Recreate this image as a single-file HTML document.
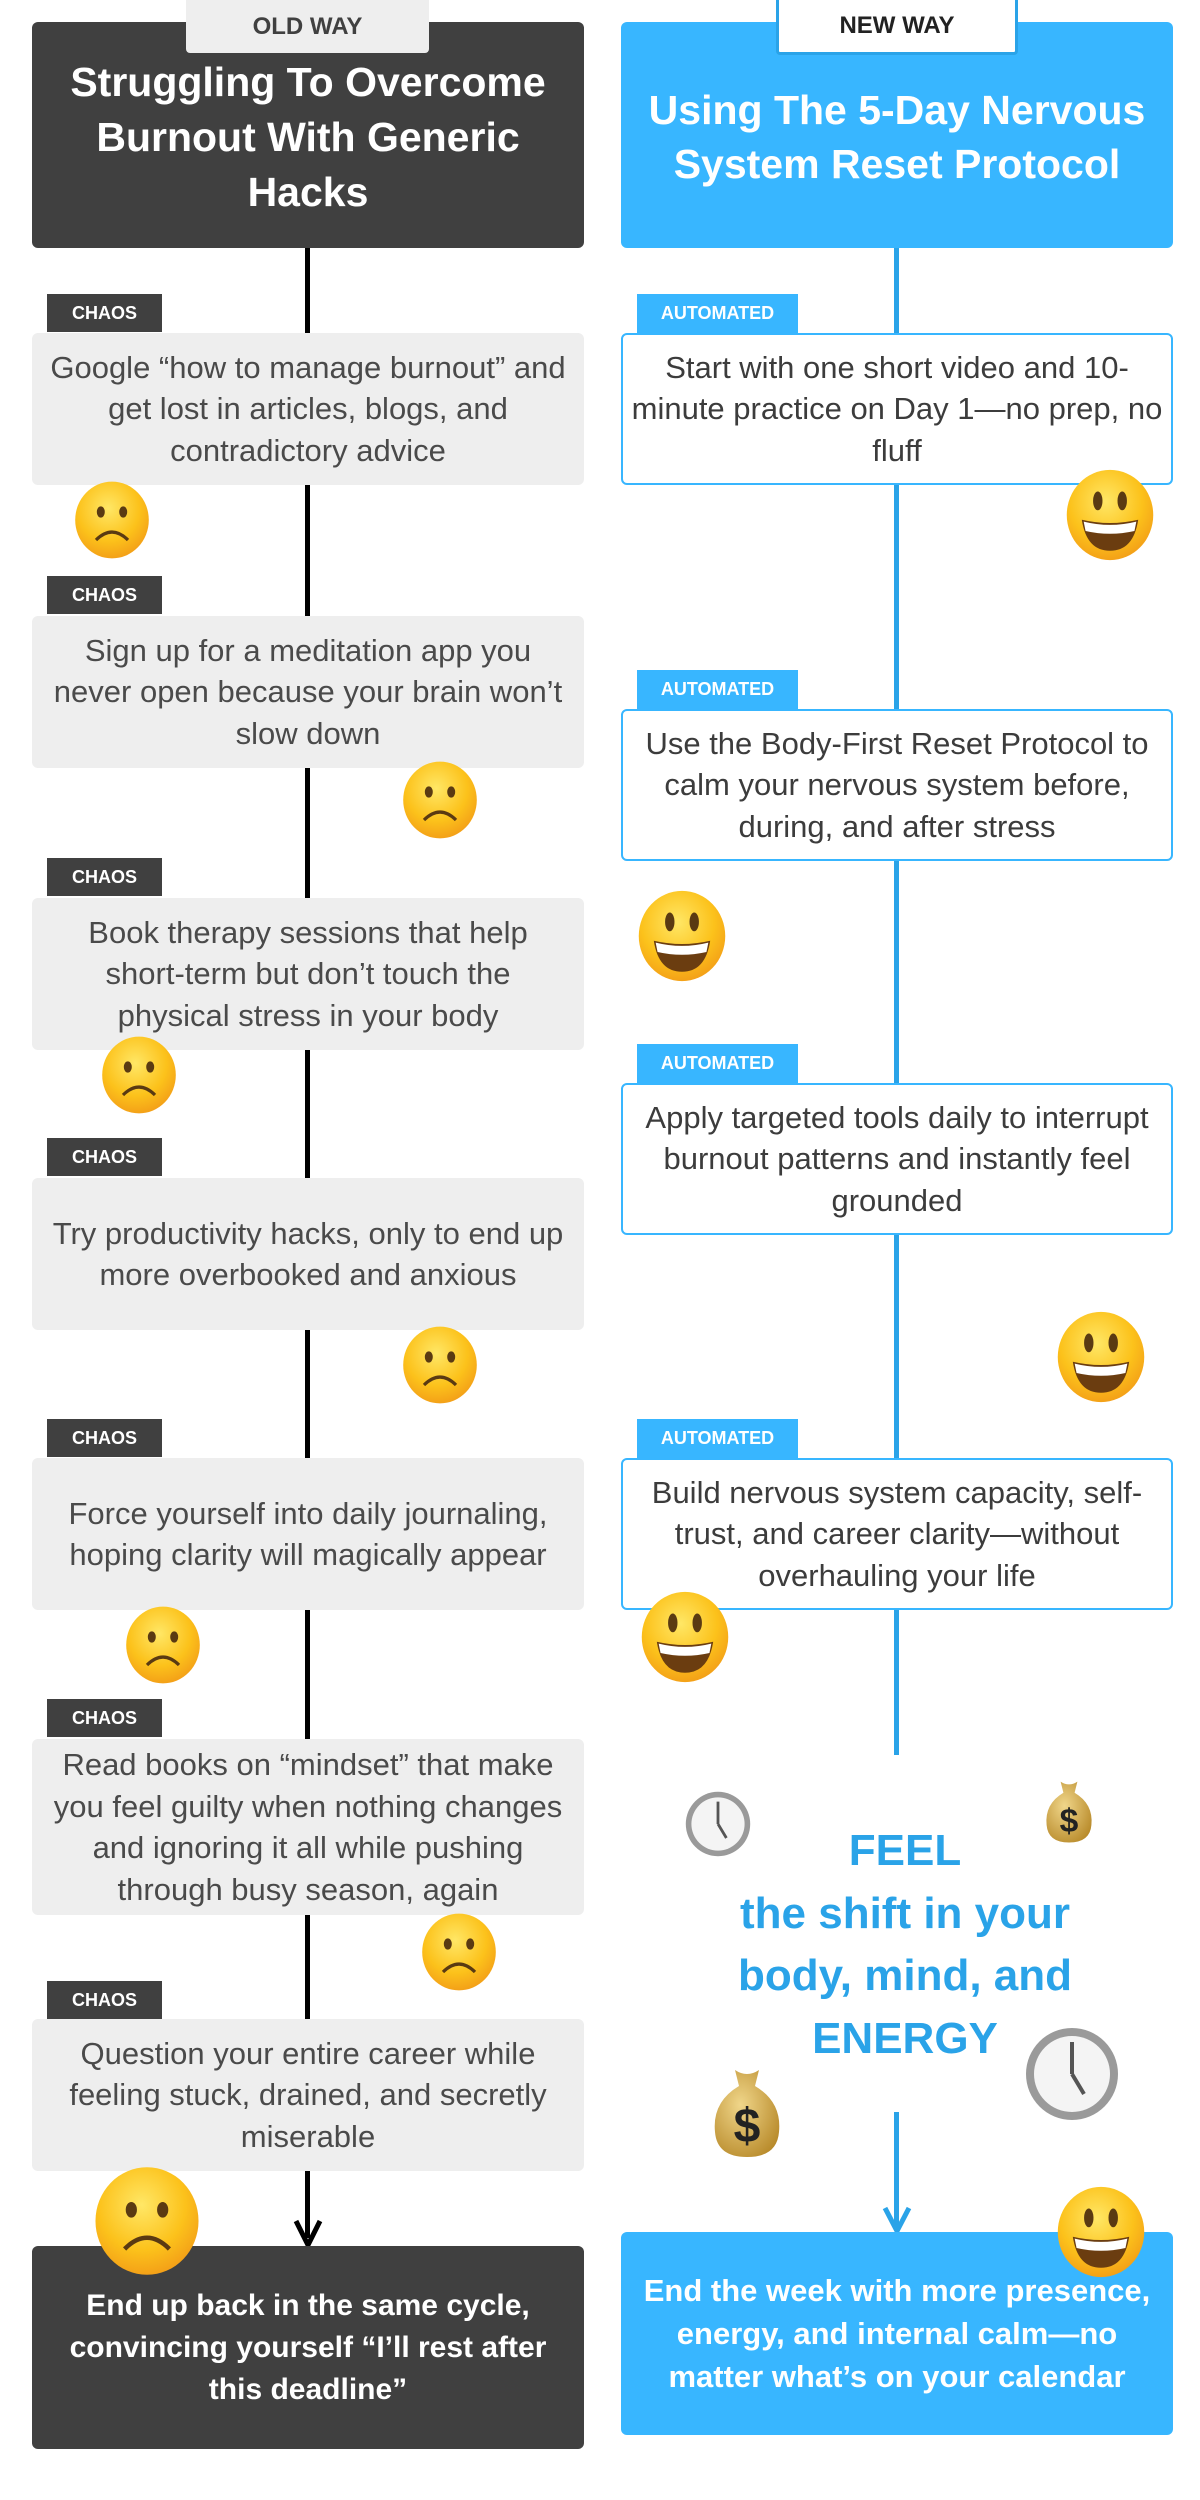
<!DOCTYPE html>
<html><head><meta charset="utf-8"><style>
*{margin:0;padding:0;box-sizing:border-box}
body{width:1200px;height:2500px;background:#fff;position:relative;overflow:hidden;font-family:"Liberation Sans",sans-serif}
.a{position:absolute}
.box{position:absolute;display:flex;align-items:center;justify-content:center;text-align:center;border-radius:6px;white-space:nowrap}
.lg{left:32px;width:552px;background:#eeeeee;color:#4a4a4a;font-size:31px;line-height:41.5px;padding:0 2px}
.rw{left:621px;width:552px;background:#fff;border:2px solid #38b6ff;color:#3c3c3c;font-size:31px;line-height:41.5px;padding:0 2px}
.tag{position:absolute;color:#fff;font-weight:bold;font-size:18px;display:flex;align-items:center;justify-content:center}
.chaos{left:47px;width:115px;height:38px;background:#404040}
.auto{left:637px;width:161px;height:39px;background:#38b6ff}
.e{position:absolute}
</style></head><body>
<svg width="0" height="0" style="position:absolute">
<defs>
<radialGradient id="yg" cx="0.45" cy="0.35" r="0.7"><stop offset="0" stop-color="#ffe766"/><stop offset="0.6" stop-color="#fcc21b"/><stop offset="1" stop-color="#f29a17"/></radialGradient>
<radialGradient id="bg" cx="0.4" cy="0.4" r="0.7"><stop offset="0" stop-color="#f0d68a"/><stop offset="1" stop-color="#b88a2a"/></radialGradient>
<symbol id="sad" viewBox="0 0 100 100"><ellipse cx="50" cy="50" rx="46" ry="48" fill="url(#yg)"/><ellipse cx="36" cy="40" rx="5" ry="7" fill="#5a3a12"/><ellipse cx="64" cy="40" rx="5" ry="7" fill="#5a3a12"/><path d="M30 75 Q50 55 70 75" stroke="#5a3a12" stroke-width="4" fill="none"/></symbol>
<symbol id="hap" viewBox="0 0 100 100"><ellipse cx="50" cy="50" rx="46" ry="48" fill="url(#yg)"/><ellipse cx="37" cy="35" rx="5" ry="10" fill="#5a3a12"/><ellipse cx="63" cy="35" rx="5" ry="10" fill="#5a3a12"/><path d="M20 55 Q50 62 80 55 Q75 88 50 88 Q25 88 20 55Z" fill="#6b3d10"/><path d="M22 57 Q50 64 78 57 L76 67 Q50 73 24 67Z" fill="#fff"/></symbol>
<symbol id="clk" viewBox="0 0 100 100"><circle cx="50" cy="50" r="46" fill="#9a9a9a"/><circle cx="50" cy="50" r="38" fill="#f4f4f4"/><path d="M50 50 L50 18 M50 50 L62 70" stroke="#555" stroke-width="4"/></symbol>
<symbol id="bag" viewBox="0 0 100 100"><path d="M38 8 Q50 16 62 8 L58 24 Q85 40 82 70 Q80 95 50 95 Q20 95 18 70 Q15 40 42 24Z" fill="url(#bg)"/><text x="50" y="80" text-anchor="middle" font-family="Liberation Sans" font-weight="bold" font-size="48" fill="#222">$</text></symbol>
</defs></svg>

<div class="a" style="left:305px;top:248px;width:5px;height:1990px;background:#000"></div>
<div class="a" style="left:894px;top:248px;width:5px;height:1507px;background:#2aa3e8"></div>
<div class="a" style="left:894px;top:2112px;width:5px;height:115px;background:#2aa3e8"></div>
<svg class="a" style="left:292px;top:2215px" width="32" height="34"><path d="M4 6 L16 30 L28 6" stroke="#000" stroke-width="5" fill="none"/></svg>
<svg class="a" style="left:880px;top:2200px" width="34" height="34"><path d="M5 8 L17 31 L29 8" stroke="#2aa3e8" stroke-width="5" fill="none"/></svg>

<div class="box" style="left:32px;top:22px;width:552px;height:226px;background:#404040;color:#fff;font-weight:bold;font-size:41px;line-height:55px;padding-top:4px">Struggling To Overcome<br>Burnout With Generic<br>Hacks</div>
<div class="box" style="left:186px;top:0;width:243px;height:53px;background:#eeeeee;color:#404040;font-weight:bold;font-size:24px;border-radius:0 0 4px 4px">OLD WAY</div>
<div class="box" style="left:621px;top:22px;width:552px;height:226px;background:#38b6ff;color:#fff;font-weight:bold;font-size:41px;line-height:54px;padding-top:4px">Using The 5-Day Nervous<br>System Reset Protocol</div>
<div class="box" style="left:776px;top:0;width:242px;height:55px;background:#fff;border:3px solid #2aa3e8;border-top:none;color:#222;font-weight:bold;font-size:24px;border-radius:0 0 4px 4px">NEW WAY</div>

<div class="tag chaos" style="top:294px">CHAOS</div>
<div class="box lg" style="top:333px;height:152px">Google “how to manage burnout” and<br>get lost in articles, blogs, and<br>contradictory advice</div>
<div class="tag chaos" style="top:576px">CHAOS</div>
<div class="box lg" style="top:616px;height:152px">Sign up for a meditation app you<br>never open because your brain won’t<br>slow down</div>
<div class="tag chaos" style="top:858px">CHAOS</div>
<div class="box lg" style="top:898px;height:152px">Book therapy sessions that help<br>short-term but don’t touch the<br>physical stress in your body</div>
<div class="tag chaos" style="top:1138px">CHAOS</div>
<div class="box lg" style="top:1178px;height:152px">Try productivity hacks, only to end up<br>more overbooked and anxious</div>
<div class="tag chaos" style="top:1419px">CHAOS</div>
<div class="box lg" style="top:1458px;height:152px">Force yourself into daily journaling,<br>hoping clarity will magically appear</div>
<div class="tag chaos" style="top:1699px">CHAOS</div>
<div class="box lg" style="top:1739px;height:176px">Read books on “mindset” that make<br>you feel guilty when nothing changes<br>and ignoring it all while pushing<br>through busy season, again</div>
<div class="tag chaos" style="top:1981px">CHAOS</div>
<div class="box lg" style="top:2019px;height:152px">Question your entire career while<br>feeling stuck, drained, and secretly<br>miserable</div>
<div class="box" style="left:32px;top:2246px;width:552px;height:203px;background:#404040;color:#fff;font-weight:bold;font-size:30px;line-height:42px;padding:0 6px">End up back in the same cycle,<br>convincing yourself “I’ll rest after<br>this deadline”</div>

<div class="tag auto" style="top:294px">AUTOMATED</div>
<div class="box rw" style="top:333px;height:152px">Start with one short video and 10-<br>minute practice on Day 1—no prep, no<br>fluff</div>
<div class="tag auto" style="top:670px">AUTOMATED</div>
<div class="box rw" style="top:709px;height:152px">Use the Body-First Reset Protocol to<br>calm your nervous system before,<br>during, and after stress</div>
<div class="tag auto" style="top:1044px">AUTOMATED</div>
<div class="box rw" style="top:1083px;height:152px">Apply targeted tools daily to interrupt<br>burnout patterns and instantly feel<br>grounded</div>
<div class="tag auto" style="top:1419px">AUTOMATED</div>
<div class="box rw" style="top:1458px;height:152px">Build nervous system capacity, self-<br>trust, and career clarity—without<br>overhauling your life</div>

<div class="a" style="left:680px;top:1820px;width:450px;text-align:center;color:#2aa3e8;font-weight:bold;font-size:44px;line-height:62.5px">FEEL<br>the shift in your<br>body, mind, and<br>ENERGY</div>

<div class="box" style="left:621px;top:2232px;width:552px;height:203px;background:#38b6ff;color:#fff;font-weight:bold;font-size:31px;line-height:43px;padding:0 2px">End the week with more presence,<br>energy, and internal calm—no<br>matter what’s on your calendar</div>

<svg class="e" style="left:72px;top:480px" width="80" height="80"><use href="#sad"/></svg>
<svg class="e" style="left:400px;top:760px" width="80" height="80"><use href="#sad"/></svg>
<svg class="e" style="left:99px;top:1035px" width="80" height="80"><use href="#sad"/></svg>
<svg class="e" style="left:400px;top:1325px" width="80" height="80"><use href="#sad"/></svg>
<svg class="e" style="left:123px;top:1605px" width="80" height="80"><use href="#sad"/></svg>
<svg class="e" style="left:419px;top:1912px" width="80" height="80"><use href="#sad"/></svg>
<svg class="e" style="left:91px;top:2165px" width="112" height="112"><use href="#sad"/></svg>

<svg class="e" style="left:1063px;top:468px" width="94" height="94"><use href="#hap"/></svg>
<svg class="e" style="left:635px;top:889px" width="94" height="94"><use href="#hap"/></svg>
<svg class="e" style="left:1054px;top:1310px" width="94" height="94"><use href="#hap"/></svg>
<svg class="e" style="left:638px;top:1590px" width="94" height="94"><use href="#hap"/></svg>
<svg class="e" style="left:1054px;top:2185px" width="94" height="94"><use href="#hap"/></svg>

<svg class="e" style="left:683px;top:1789px" width="70" height="70"><use href="#clk"/></svg>
<svg class="e" style="left:1022px;top:2024px" width="100" height="100"><use href="#clk"/></svg>
<svg class="e" style="left:1034px;top:1776px" width="70" height="70"><use href="#bag"/></svg>
<svg class="e" style="left:697px;top:2062px" width="100" height="100"><use href="#bag"/></svg>
</body></html>
